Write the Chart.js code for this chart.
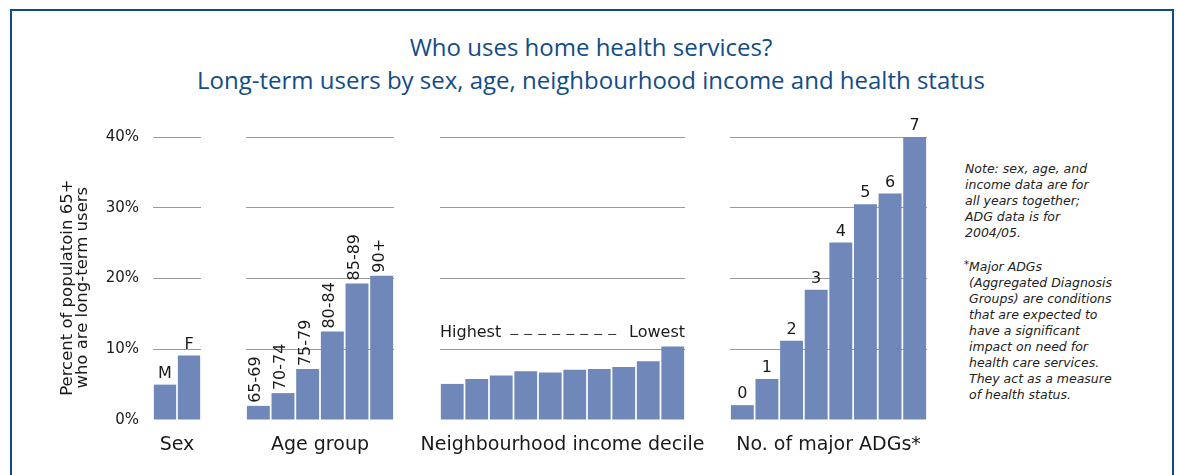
<!DOCTYPE html>
<html>
<head>
<meta charset="utf-8">
<script src="https://cdn.jsdelivr.net/npm/chart.js@4.4.1/dist/chart.umd.min.js"></script>
<style>
  body { margin: 0; background: #fff; width: 1178px; height: 475px; overflow: hidden; position: relative; }
  .frame { position: absolute; left: 10px; top: 9px; width: 1164px; height: 480px; border: 2.5px solid #0d4a86; border-bottom: none; box-sizing: border-box; }
  .title { position: absolute; left: 0; width: 1182px; top: 30px; text-align: center; font-family: 'Open Sans', sans-serif; font-size: 24px; line-height: 33px; color: #134c86; }
  canvas { position: absolute; }
  .note { position: absolute; left: 965px; top: 161px; font-family: 'DejaVu Sans', sans-serif; font-style: italic; font-size: 12.5px; line-height: 16px; color: #222; }
  .note p { margin: 0 0 18px 0; }
  .note .ind { padding-left: 4px; position: relative; }
  .note .star { position: absolute; left: -1px; top: -2px; font-size: 10px; }
</style>
</head>
<body>
<div class="frame"></div>
<div class="title">Who uses home health services?<br>Long-term users by sex, age, neighbourhood income and health status</div>

<canvas id="sexChart" width="186" height="365" style="left:40px;top:100px"></canvas>
<canvas id="ageChart" width="198" height="365" style="left:221px;top:100px"></canvas>
<canvas id="incomeChart" width="295" height="365" style="left:415px;top:100px"></canvas>
<canvas id="adgChart" width="247" height="365" style="left:705px;top:100px"></canvas>

<div class="note">
  <p>Note: sex, age, and<br>income data are for<br>all years together;<br>ADG data is for<br>2004/05.</p>
  <p class="ind"><span class="star">*</span>Major ADGs<br>(Aggregated Diagnosis<br>Groups) are conditions<br>that are expected to<br>have a significant<br>impact on need for<br>health care services.<br>They act as a measure<br>of health status.</p>
</div>

<script>
// data
const sexLabels = ['M', 'F']
const sexValues = [5.0, 9.1]

const ageLabels = ['65-69', '70-74', '75-79', '80-84', '85-89', '90+']
const ageValues = [2.0, 3.8, 7.2, 12.5, 19.3, 20.4]

const incomeLabels = ['1', '2', '3', '4', '5', '6', '7', '8', '9', '10']
const incomeValues = [5.1, 5.8, 6.3, 6.9, 6.7, 7.1, 7.2, 7.5, 8.3, 10.4]

const adgLabels = ['0', '1', '2', '3', '4', '5', '6', '7']
const adgValues = [2.1, 5.8, 11.2, 18.4, 25.1, 30.5, 32.0, 40.0]

const yTicks = [0, 10, 20, 30, 40]
const yTitle = ['Percent of populatoin 65+', 'who are long-term users']

const barColor = '#6f88b9'
const textColor = '#1a1a1a'
const sansFont = "'DejaVu Sans', sans-serif"

// draws category names above the bars, panel names, the income header and the y title
const barLabels = {
  id: 'barLabels',
  afterDatasetsDraw (chart, args, opts) {
    const { ctx } = chart
    const area = chart.chartArea
    const yScale = chart.scales.y
    const meta = chart.getDatasetMeta(0)
    ctx.save()
    ctx.fillStyle = textColor
    ctx.font = '16px ' + sansFont
    if (opts.show) {
      meta.data.forEach((bar, i) => {
        const text = chart.data.labels[i]
        if (opts.rotate) {
          ctx.save()
          ctx.translate(bar.x - 2, bar.y - 3)
          ctx.rotate(-Math.PI / 2)
          ctx.textAlign = 'left'
          ctx.textBaseline = 'middle'
          ctx.fillText(text, 0, 0)
          ctx.restore()
        } else {
          ctx.textAlign = 'center'
          ctx.textBaseline = 'bottom'
          ctx.fillText(text, bar.x, bar.y - 3)
        }
      })
    }
    if (opts.header) {
      const y = yScale.getPixelForValue(opts.header.at)
      ctx.textBaseline = 'middle'
      ctx.textAlign = 'left'
      ctx.fillText(opts.header.left, area.left, y)
      const lw = ctx.measureText(opts.header.left).width
      ctx.textAlign = 'right'
      ctx.fillText(opts.header.right, area.right, y)
      const rw = ctx.measureText(opts.header.right).width
      ctx.strokeStyle = '#333'
      ctx.lineWidth = 1
      ctx.setLineDash([8, 6])
      ctx.beginPath()
      ctx.moveTo(area.left + lw + 9, y + 1.5)
      ctx.lineTo(area.right - rw - 9, y + 1.5)
      ctx.stroke()
      ctx.setLineDash([])
    }
    if (opts.name) {
      ctx.font = '19px ' + sansFont
      ctx.textAlign = 'center'
      ctx.textBaseline = 'middle'
      ctx.fillText(opts.name, (area.left + area.right) / 2, area.bottom + 25)
    }
    if (opts.yTitle) {
      ctx.save()
      ctx.font = '16.5px ' + sansFont
      ctx.translate(28, yScale.getPixelForValue(opts.yTitle.at))
      ctx.rotate(-Math.PI / 2)
      ctx.textAlign = 'center'
      ctx.textBaseline = 'middle'
      opts.yTitle.text.forEach((line, i) => ctx.fillText(line, 0, i * 15))
      ctx.restore()
    }
    ctx.restore()
  }
}

const makePanel = (canvasId, labels, values, withAxis, labelOpts) => {
  const config = {
    type: 'bar',
    data: {
      labels,
      datasets: [{
        data: values,
        backgroundColor: barColor,
        borderWidth: 0,
        barPercentage: 0.93,
        categoryPercentage: 1
      }]
    },
    options: {
      responsive: false,
      animation: false,
      layout: { padding: { top: 37, left: withAxis ? 0 : 25, right: 25, bottom: 0 } },
      plugins: {
        legend: { display: false },
        tooltip: { enabled: false },
        barLabels: labelOpts
      },
      scales: {
        x: {
          grid: { display: false },
          border: { display: false },
          ticks: { display: false },
          afterFit (scale) { scale.height = 45 }
        },
        y: {
          min: 0,
          max: 40,
          afterBuildTicks (scale) { scale.ticks = yTicks.map(v => ({ value: v })) },
          grid: {
            color: ctx => (ctx.tick && ctx.tick.value === 0 ? 'rgba(0,0,0,0)' : '#9a9a9a'),
            lineWidth: 1,
            drawTicks: false
          },
          border: { display: false },
          ticks: {
            display: withAxis,
            padding: 14,
            color: textColor,
            font: { family: sansFont, size: 15 },
            callback: v => v + '%'
          },
          afterFit (scale) { scale.width = withAxis ? 113 : 0 }
        }
      }
    },
    plugins: [barLabels]
  }
  new Chart(document.getElementById(canvasId), config) // eslint-disable-line
}

makePanel('sexChart', sexLabels, sexValues, true,
  { show: true, name: 'Sex', yTitle: { at: 18.7, text: yTitle } })
makePanel('ageChart', ageLabels, ageValues, false,
  { show: true, rotate: true, name: 'Age group' })
makePanel('incomeChart', incomeLabels, incomeValues, false,
  { show: false, name: 'Neighbourhood income decile', header: { at: 12.3, left: 'Highest', right: 'Lowest' } })
makePanel('adgChart', adgLabels, adgValues, false,
  { show: true, name: 'No. of major ADGs*' })
</script>
</body>
</html>
